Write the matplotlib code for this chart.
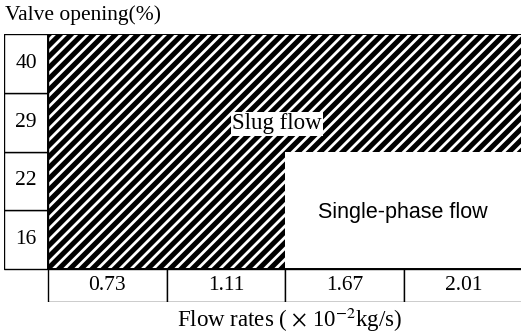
import numpy as np
import matplotlib.pyplot as plt
from matplotlib.path import Path
from matplotlib.patches import PathPatch, Rectangle
from matplotlib.transforms import Affine2D

plt.rcParams['mathtext.fontset'] = 'stix'
plt.rcParams['hatch.linewidth'] = 2.0

# flow regime map: valve opening (rows) vs flow rate (columns)
flow_rates = ['0.73', '1.11', '1.67', '2.01']
valve_openings = ['16', '22', '29', '40']
regime_16 = ['slug', 'slug', 'single', 'single']
regime_22 = ['slug', 'slug', 'single', 'single']
regime_29 = ['slug', 'slug', 'slug', 'slug']
regime_40 = ['slug', 'slug', 'slug', 'slug']
regimes = [regime_16, regime_22, regime_29, regime_40]

serif = 'Liberation Serif'
sans = 'Liberation Sans'

fig = plt.figure(figsize=(5.21, 3.36), dpi=100)
ax = fig.add_axes([4 / 521, 34 / 336, 519 / 521, 268 / 336])
ax.set_xlim(-0.3705, 4.0)
ax.set_ylim(-0.5617, 4.0)
ax.axis('off')

n_rows = len(valve_openings)
n_cols = len(flow_rates)

# slug flow cells merged into one path so the hatch has no seams
cells = []
for i, row in enumerate(regimes):
    for j, r in enumerate(row):
        if r == 'slug':
            cells.append(Path.unit_rectangle().transformed(
                Affine2D().translate(j, i)))
slug_path = Path.make_compound_path(*cells)
ax.add_patch(PathPatch(slug_path, facecolor='black', edgecolor='white',
                       hatch='///', lw=0))

# outline of the map area
ax.plot([0, n_cols], [n_rows, n_rows], color='black', lw=1.4)
ax.plot([0, n_cols], [0, 0], color='black', lw=1.4)
ax.plot([0, 0], [0, n_rows], color='black', lw=1.4)

# valve opening column
for i, v in enumerate(valve_openings):
    ax.add_patch(Rectangle((-0.3705, i), 0.3705, 1, facecolor='white',
                           edgecolor='black', lw=1.0))
    ax.text(-0.185, i + 0.5, v, ha='center', va='center',
            family=serif, size=15.5)

# flow rate row
for j, f in enumerate(flow_rates):
    ax.add_patch(Rectangle((j, -0.5617), 1, 0.5617, facecolor='white',
                           edgecolor='black', lw=1.0))
    ax.text(j + 0.5, -0.28, f, ha='center', va='center',
            family=serif, size=15.5)

ax.text(1.93, 2.47, 'Slug flow', ha='center', va='center', family=serif,
        size=16.5, bbox=dict(facecolor='white', edgecolor='none', pad=1.0))
ax.text(2.99, 0.97, 'Single-phase flow', ha='center', va='center',
        family=sans, size=15.5)

fig.text(5 / 521, 1 - 15 / 336, 'Valve opening(%)', ha='left', va='center',
         family=serif, size=15.5)
fig.text(290 / 521, 1 - 320 / 336, r'Flow rates ( $\times$ 10$^{-2}$kg/s)',
         ha='center', va='center', family=serif, size=16.5)

fig.savefig('out.png', dpi=100)
